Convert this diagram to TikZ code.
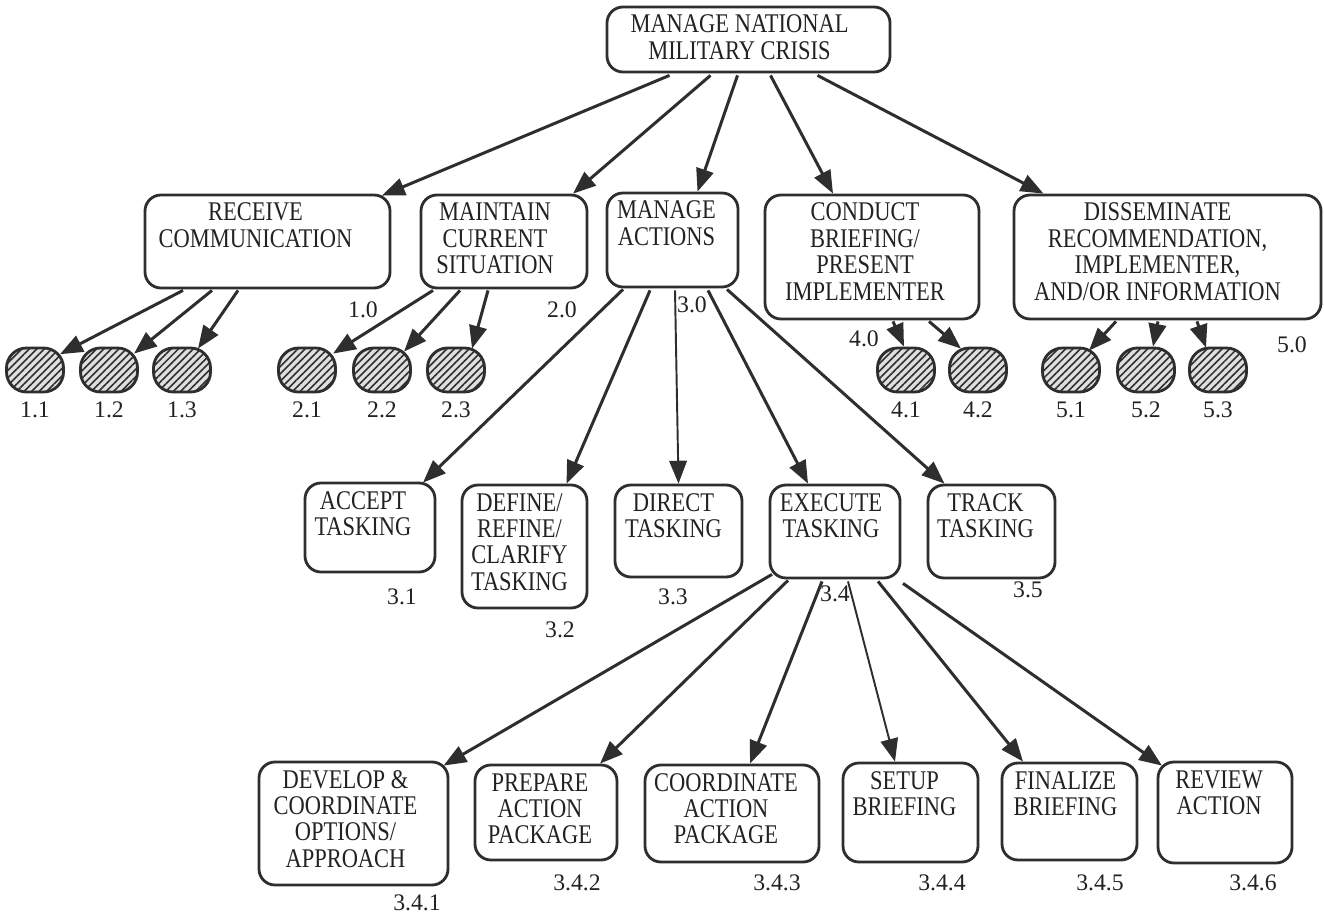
\documentclass[tikz,border=0pt]{standalone}
\usepackage{fontspec}
\setmainfont{Liberation Serif}
\usepackage{graphicx}
\usetikzlibrary{arrows.meta,patterns.meta,calc}
\definecolor{ink}{HTML}{2E2E2E}
\definecolor{textink}{HTML}{222222}
\newcommand\T[1]{\scalebox{1}[1.2]{\begin{tabular}[t]{@{}c@{}}#1\end{tabular}}}
% name, x1, y1, x2, y2, text x-offset, text
\newcommand\bx[7]{%
  \node[box, minimum width={(#4-#2)*0.02cm}, minimum height={(#5-#3)*0.02cm}] (#1) at ({(#2+#4)/2},{(#3+#5)/2}) {};
  \node[txt] (#1t) at ({(#2+#4)/2+(#6)},{#3+26}) {\T{#7}};
}
\newcommand\sm[2]{\node[small] (#1) at (#2,370) {};}
\newcommand\ar[5][]{\draw[arr,#1] ([shift={(#3)}]#2.south) -- ([shift={(#5)}]#4.north);}
\begin{document}
\begin{tikzpicture}[x=0.02cm,y=-0.02cm,
  box/.style={draw=ink, line width=1.6pt, rounded corners=0.32cm, inner sep=0pt, fill=white},
  txt/.style={inner sep=0pt, anchor=base, text=textink, font=\fontsize{12.8}{12.5}\selectfont},
  lab/.style={inner sep=0pt, text=textink, font=\fontsize{13.5}{14}\selectfont},
  small/.style={draw=ink, line width=1.6pt, rounded corners=0.4cm, minimum width=1.14cm, minimum height=0.88cm, inner sep=0pt,
    preaction={fill=gray!25}, pattern={Lines[angle=45,distance=3pt,line width=0.9pt]}, pattern color=ink},
  arr/.style={draw=ink, line width=1.7pt, -{Triangle[length=13pt,width=10pt]}},
  thinarr/.style={line width=1.1pt}]
\fill[white] (0,0) rectangle (1324,915);
\useasboundingbox (0,0) rectangle (1324,915);

% level 0
\bx{top}{607}{7}{890}{72}{-9}{MANAGE NATIONAL\\MILITARY CRISIS}
% level 1
\bx{rc}{145}{195}{390}{288}{-12}{RECEIVE\\COMMUNICATION}
\bx{mc}{421}{195}{587}{288}{-9}{MAINTAIN\\CURRENT\\SITUATION}
\bx{ma}{607}{193}{738}{287}{-6}{MANAGE\\ACTIONS}
\bx{cb}{765}{195}{979}{319}{-7}{CONDUCT\\BRIEFING/\\PRESENT\\IMPLEMENTER}
\bx{dr}{1014}{195}{1321}{319}{-10}{DISSEMINATE\\RECOMMENDATION,\\IMPLEMENTER,\\AND/OR INFORMATION}
% level 2 (3.x)
\bx{at}{305}{483}{435}{572}{-7}{ACCEPT\\TASKING}
\bx{df}{462}{485}{587}{608}{-5}{DEFINE/\\REFINE/\\CLARIFY\\TASKING}
\bx{dt}{615}{485}{742}{577}{-5}{DIRECT\\TASKING}
\bx{et}{770}{485}{900}{578}{-4}{EXECUTE\\TASKING}
\bx{tt}{928}{485}{1055}{578}{-6}{TRACK\\TASKING}
% level 3 (3.4.x)
\bx{dv}{259}{762}{448}{885}{-8}{DEVELOP \&\\COORDINATE\\OPTIONS/\\APPROACH}
\bx{pp}{475}{765}{617}{860}{-6}{PREPARE\\ACTION\\PACKAGE}
\bx{ca}{645}{765}{819}{862}{-6}{COORDINATE\\ACTION\\PACKAGE}
\bx{sb}{843}{763}{978}{862}{-6}{SETUP\\BRIEFING}
\bx{fb}{1002}{763}{1137}{860}{-4}{FINALIZE\\BRIEFING}
\bx{ra}{1158}{762}{1292}{863}{-6}{REVIEW\\ACTION}

% hatched sub-activities
\sm{s11}{35}\sm{s12}{109}\sm{s13}{182}
\sm{s21}{307}\sm{s22}{382}\sm{s23}{456}
\sm{s41}{906}\sm{s42}{978}
\sm{s51}{1071}\sm{s52}{1146}\sm{s53}{1218}

% numbers
\node[lab] (L10) at (363,310) {1.0};
\node[lab] (L20) at (562,310) {2.0};
\node[lab] (L30) at (692,305) {3.0};
\node[lab] (L40) at (864,339) {4.0};
\node[lab] (L50) at (1292,345) {5.0};
\node[lab] (L11) at (35,410) {1.1};
\node[lab] (L12) at (109,410) {1.2};
\node[lab] (L13) at (182,410) {1.3};
\node[lab] (L21) at (307,410) {2.1};
\node[lab] (L22) at (382,410) {2.2};
\node[lab] (L23) at (456,410) {2.3};
\node[lab] (L41) at (906,410) {4.1};
\node[lab] (L42) at (978,410) {4.2};
\node[lab] (L51) at (1071,410) {5.1};
\node[lab] (L52) at (1146,410) {5.2};
\node[lab] (L53) at (1218,410) {5.3};
\node[lab] (L31) at (402,597) {3.1};
\node[lab] (L32) at (560,630) {3.2};
\node[lab] (L33) at (673,597) {3.3};
\node[lab] (L34) at (835,594) {3.4};
\node[lab] (L35) at (1028,590) {3.5};
\node[lab] (L341) at (417,903) {3.4.1};
\node[lab] (L342) at (577,883) {3.4.2};
\node[lab] (L343) at (777,883) {3.4.3};
\node[lab] (L344) at (942,883) {3.4.4};
\node[lab] (L345) at (1100,883) {3.4.5};
\node[lab] (L346) at (1253,883) {3.4.6};

% connectors
\ar{top}{-79,2}{rc}{114.5,2}
\ar{top}{-38,2}{mc}{69,0}
\ar{top}{-11,2}{ma}{25,0}
\ar{top}{22,2}{cb}{-39,0}
\ar{top}{69,2}{dr}{-124,0}

\ar{rc}{-84.5,1}{s11}{25,7}
\ar{rc}{-55.5,1}{s12}{25,7}
\ar{rc}{-29.5,1}{s13}{16,2}
\ar{mc}{-71,1}{s21}{26,7}
\ar{mc}{-44,1}{s22}{22,5}
\ar{mc}{-16,1}{s23}{16,2}
\ar{cb}{21,1}{s41}{-2,0}
\ar{cb}{57,1}{s42}{-17,2}
\ar{dr}{-51.5,1}{s51}{18,4}
\ar{dr}{-9.5,1}{s52}{7,0}
\ar{dr}{29.5,1}{s53}{-12,1}

\ar{ma}{-49.5,1}{at}{53,1}
\ar{ma}{-22.5,2}{df}{42,0}
\ar[thinarr]{ma}{2.5,2}{dt}{0,0}
\ar{ma}{35.5,2}{et}{-27,0}
\ar{ma}{54.5,1}{tt}{-47,0}

\ar{et}{-63,-5}{dv}{90,5}
\ar{et}{-47,1}{pp}{54,0}
\ar{et}{-13,2}{ca}{18,0}
\ar[thinarr]{et}{13,2}{sb}{-15.5,0}
\ar{et}{43,2}{fb}{-46.5,0}
\ar{et}{68,4}{ra}{-63,5}
\end{tikzpicture}
\end{document}
